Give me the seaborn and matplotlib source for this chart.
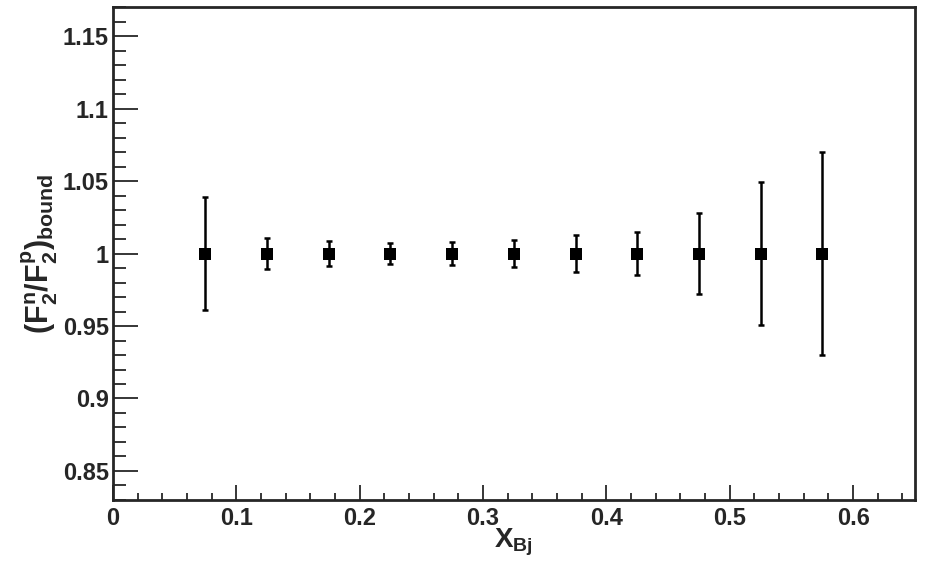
import numpy as np
import pandas as pd
import matplotlib
matplotlib.use('Agg')
import matplotlib.pyplot as plt
import seaborn as sns
from matplotlib.ticker import MultipleLocator

# x_Bj bin centres, ratio and its uncertainty
x_bj = [0.075, 0.125, 0.175, 0.225, 0.275, 0.325, 0.375, 0.425, 0.475, 0.525, 0.575]
ratio = [1.0, 1.0, 1.0, 1.0, 1.0, 1.0, 1.0, 1.0, 1.0, 1.0, 1.0]
err = [0.039, 0.0105, 0.0085, 0.0072, 0.0077, 0.009, 0.0126, 0.015, 0.0277, 0.049, 0.070]

x_ticks = [0, 0.1, 0.2, 0.3, 0.4, 0.5, 0.6]
x_labels = ['0', '0.1', '0.2', '0.3', '0.4', '0.5', '0.6']
y_ticks = [0.85, 0.9, 0.95, 1.0, 1.05, 1.1, 1.15]
y_labels = ['0.85', '0.9', '0.95', '1', '1.05', '1.1', '1.15']

df = pd.DataFrame({'x': x_bj, 'ratio': ratio, 'err': err})

sns.set_style('ticks')
plt.rcParams['font.family'] = ['Liberation Sans', 'DejaVu Sans']
plt.rcParams['font.weight'] = 'bold'
plt.rcParams['mathtext.fontset'] = 'custom'
plt.rcParams['mathtext.rm'] = 'Liberation Sans:bold'
plt.rcParams['mathtext.bf'] = 'Liberation Sans:bold'
plt.rcParams['mathtext.it'] = 'Liberation Sans:bold'

fig = plt.figure(figsize=(9.25, 5.64), dpi=100)
ax = fig.add_axes([0.122, 0.1135, 0.867, 0.874])

ax.errorbar(df['x'], df['ratio'], yerr=df['err'], fmt='none', ecolor='black',
            elinewidth=1.8, capsize=2.5, capthick=1.8, zorder=2)
sns.scatterplot(data=df, x='x', y='ratio', marker='s', s=72, color='black',
                edgecolor='black', linewidth=0, ax=ax, zorder=3)

ax.set_xlim(0, 0.65)
ax.set_ylim(0.83, 1.17)

ax.xaxis.set_minor_locator(MultipleLocator(0.02))
ax.yaxis.set_minor_locator(MultipleLocator(0.01))
ax.set_xticks(x_ticks)
ax.set_xticklabels(x_labels)
ax.set_yticks(y_ticks)
ax.set_yticklabels(y_labels)

ax.tick_params(axis='x', which='major', direction='in', length=10.5, width=1.3,
               labelsize=17, pad=5)
ax.tick_params(axis='x', which='minor', direction='in', length=5, width=1.3)
ax.tick_params(axis='y', which='major', direction='in', length=18, width=1.3,
               labelsize=17, pad=3)
ax.tick_params(axis='y', which='minor', direction='in', length=9, width=1.3)

for s in ax.spines.values():
    s.set_visible(True)
    s.set_linewidth(2)

ax.set_xlabel(r'$\mathbf{X_{Bj}}$', fontsize=20, labelpad=-2)
ax.set_ylabel(r'$\mathbf{(F_{2}^{n}/F_{2}^{p})_{bound}}$', fontsize=22, labelpad=2)

fig.savefig('out.png', dpi=100)
